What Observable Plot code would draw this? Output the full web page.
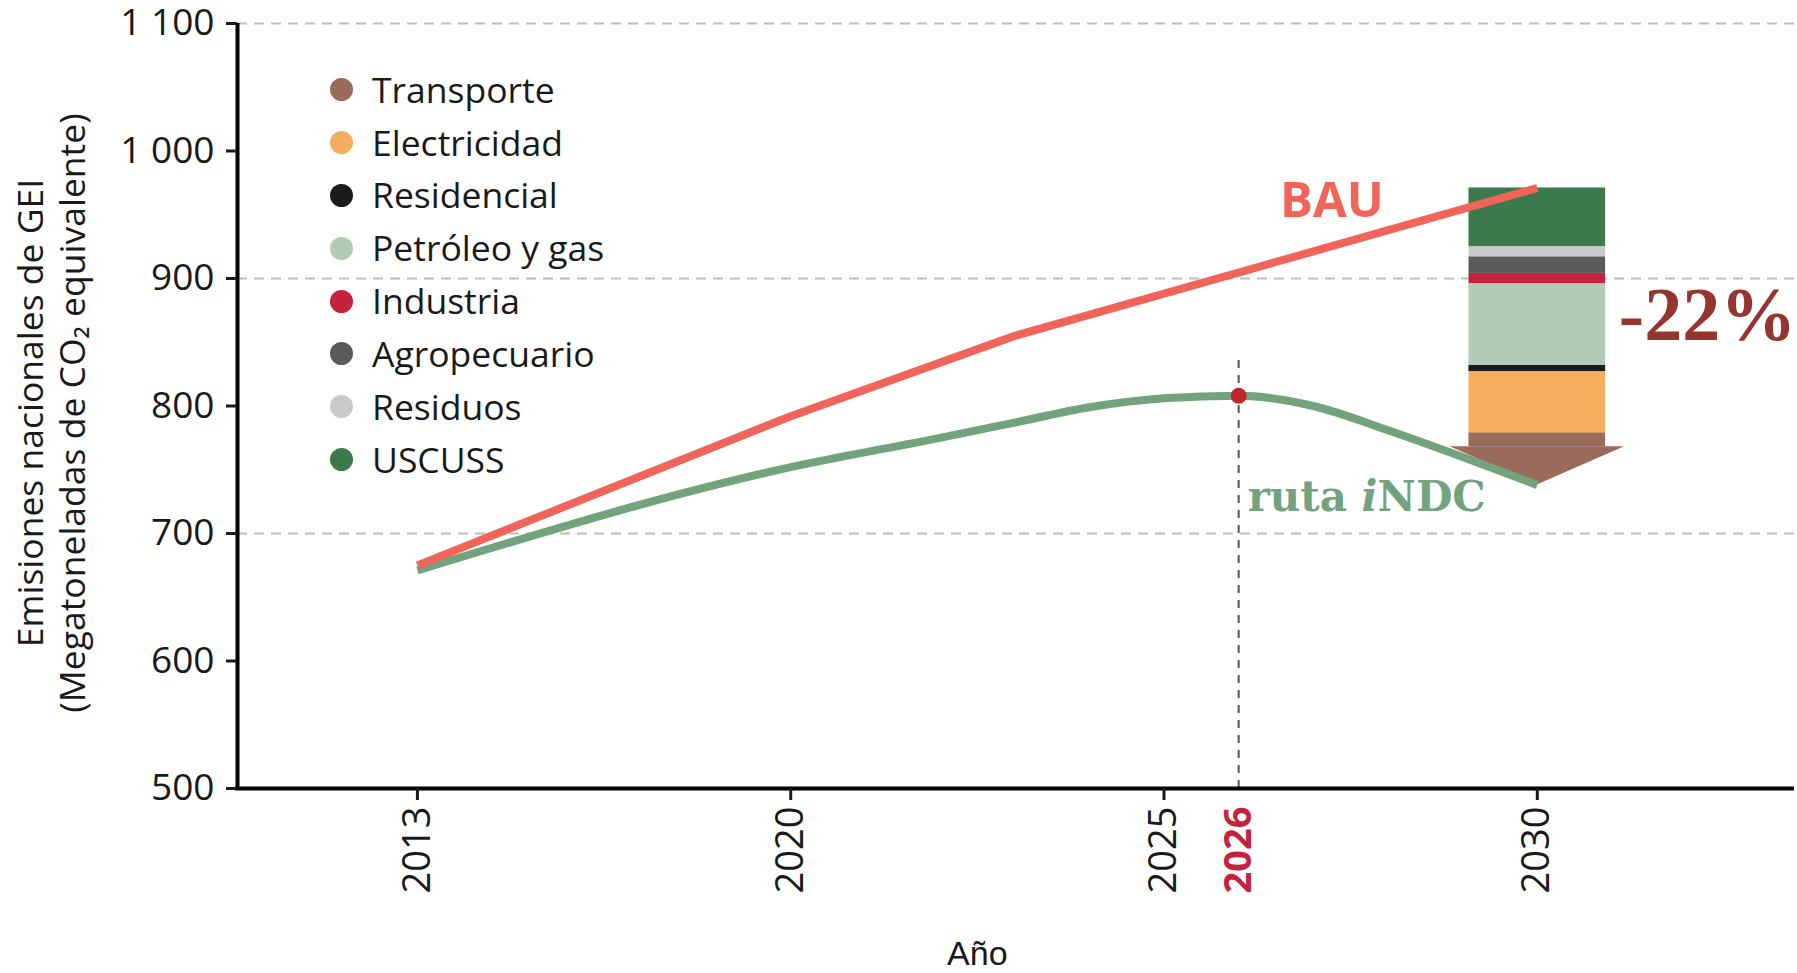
<!DOCTYPE html>
<html><head><meta charset="utf-8">
<script src="https://cdn.jsdelivr.net/npm/d3@7"></script>
<script src="https://cdn.jsdelivr.net/npm/@observablehq/plot@0.6"></script>
<style>
html,body{margin:0;padding:0;background:#fff;}
#chart{position:relative;width:1797px;height:973px;overflow:hidden;background:#fff;}
#legend{position:absolute;left:330px;top:63px;font-family:"Open Sans",sans-serif;font-size:35.5px;color:#1a1a1a;}
.item{display:flex;align-items:center;height:52.9px;line-height:1;}
.sw{width:23px;height:23px;border-radius:50%;margin-right:19px;flex:none;}
</style></head><body>
<div id="chart"><div id="legend"></div></div>
<script>
// ---- data ----
const bauYears = [2013, 2020, 2023, 2030];
const bauValues = [675, 792, 855, 971];
const ndcYears = [2013, 2020, 2022, 2023, 2024, 2025, 2026, 2027, 2028, 2029, 2030];
const ndcValues = [671, 752, 775, 787, 799, 806, 808, 800, 781, 760, 738];
const sectors = ["Transporte", "Electricidad", "Residencial", "Petróleo y gas", "Industria", "Agropecuario", "Residuos", "USCUSS"];
const sectorColors = ["#9a6b5b", "#f5ae5d", "#1b1b1b", "#b2cbb5", "#c4223f", "#5b5b5b", "#cacaca", "#3b7a4a"];
const reductions2030 = [41, 48, 5, 64, 8, 13, 8, 46]; // bottom to top
const yTicks = [500, 600, 700, 800, 900, 1000, 1100];
const gridValues = [700, 900, 1100];
const xTickYears = [2013, 2020, 2025, 2030];
const peakYear = 2026, peakValue = 808;
const yLabel = "Emisiones nacionales de GEI\n(Megatoneladas de CO\u2082 equivalente)";
const xLabel = "Año";
const reductionLabel = "-22%";

// ---- layout ----
const W = 1797, H = 973;
const pos = d3.scaleLinear().domain([2013, 2020, 2030]).range([0, 1, 3]); // broken year axis
const xDomain = [pos(2013) - 0.482, pos(2030) + 0.689];
const halfBar = 0.183, halfArrow = 0.234, arrowDepth = 30;
const barYear = 2030;

const bau = bauYears.map((year, i) => ({year, value: bauValues[i]}));
const ndc = ndcYears.map((year, i) => ({year, value: ndcValues[i]}));
const top2030 = bauValues[bauValues.length - 1];
const bottom = top2030 - d3.sum(reductions2030);
let acc = bottom;
const stack = sectors.map((sector, i) => {
  const y1 = acc; acc += reductions2030[i];
  return {sector, color: sectorColors[i], y1: i === 0 ? y1 + arrowDepth : y1, y2: acc};
});
const xc = pos(barYear);
const arrow = [
  {x: xc - halfArrow, y1: bottom + arrowDepth, y2: bottom + arrowDepth},
  {x: xc, y1: bottom, y2: bottom + arrowDepth},
  {x: xc + halfArrow, y1: bottom + arrowDepth, y2: bottom + arrowDepth}
];
const xLabelMap = new Map(xTickYears.map(y => [pos(y), String(y)]));

const plot = Plot.plot({
  width: W, height: H,
  marginLeft: 237, marginRight: 3, marginTop: 23, marginBottom: 185,
  style: {fontFamily: "'Open Sans', sans-serif", color: "#1a1a1a", background: "#fff", overflow: "visible"},
  x: {type: "linear", domain: xDomain, axis: null},
  y: {domain: [500, 1100], axis: null},
  color: {type: "identity"},
  marks: [
    Plot.ruleY(gridValues, {stroke: "#bdbdbd", strokeWidth: 2, strokeDasharray: "10,7"}),
    Plot.ruleX([pos(peakYear)], {y1: 500, y2: 850, stroke: "#555", strokeWidth: 2, strokeDasharray: "8,7", insetBottom: -18}),
    Plot.rect(stack, {x1: () => xc - halfBar, x2: () => xc + halfBar, y1: "y1", y2: "y2", fill: "color"}),
    Plot.areaY(arrow, {x: "x", y1: "y1", y2: "y2", fill: sectorColors[0], curve: "linear"}),
    Plot.line(ndc, {x: d => pos(d.year), y: "value", stroke: "#72a37d", strokeWidth: 8, curve: "monotone-x", strokeLinecap: "butt"}),
    Plot.line(bau, {x: d => pos(d.year), y: "value", stroke: "#f06459", strokeWidth: 8, strokeLinecap: "butt", strokeLinejoin: "round"}),
    Plot.dot([{year: peakYear, value: peakValue}], {x: d => pos(d.year), y: "value", r: 8, fill: "#c0272d"}),
    Plot.ruleX([xDomain[0]], {y1: 500, y2: 1100, stroke: "#000", strokeWidth: 4}),
    Plot.ruleY([500], {stroke: "#000", strokeWidth: 4, insetLeft: -2}),
    Plot.axisY({ticks: yTicks, tickSize: 11, tickPadding: 12, strokeWidth: 3, fontSize: 37, label: null,
      tickFormat: d => d3.format(",")(d).replace(/,/g, " ")}),
    Plot.axisX({ticks: xTickYears.map(pos), tickFormat: u => xLabelMap.get(u), tickRotate: -90, tickSize: 12, tickPadding: 6, strokeWidth: 3, fontSize: 38, label: null}),
    Plot.axisX({ticks: [pos(peakYear)], tickFormat: () => String(peakYear), tickRotate: -90, tickSize: 0, tickPadding: 18, fontSize: 38, fontWeight: "bold", color: "#c4223f", label: null}),
    Plot.text([yLabel], {frameAnchor: "left", rotate: -90, dx: -187, dy: 7, fontSize: 35.5, lineHeight: 1.18, textAnchor: "middle", lineAnchor: "middle", fill: "#1a1a1a"}),
    Plot.text([xLabel], {x: () => pos(2022.5), frameAnchor: "bottom", dy: 176, lineAnchor: "bottom", fontFamily: "'Liberation Sans', sans-serif", fontSize: 34, fill: "#1a1a1a"}),
    Plot.text(["BAU"], {x: () => pos(2027.25), y: () => 948, lineAnchor: "bottom", textAnchor: "middle", fontSize: 49, fontWeight: "bold", fill: "#f06459"}),
    Plot.text([reductionLabel], {x: () => pos(2032.28), y: () => 851.6, lineAnchor: "bottom", textAnchor: "middle", fontFamily: "'Liberation Serif', serif", fontSize: 76, fontWeight: "bold", fill: "#963530"}),
    Plot.text(["ruta iNDC"], {x: () => pos(peakYear), y: () => 718, dx: 9, lineAnchor: "bottom", textAnchor: "start", fontFamily: "'DejaVu Serif', serif", fontSize: 42, fontWeight: "bold", fill: "#72a37d"})
  ]
});

// italic "i" in "ruta iNDC"
d3.select(plot).selectAll("text").filter(function() { return this.textContent === "ruta iNDC"; }).each(function() {
  const t = d3.select(this);
  t.text(null).style("white-space", "pre");
  t.append("tspan").text("ruta ");
  t.append("tspan").attr("font-style", "italic").text("i");
  t.append("tspan").text("NDC");
});

const chart = document.getElementById("chart");
chart.insertBefore(plot, chart.firstChild);
const legend = document.getElementById("legend");
sectors.forEach((s, i) => {
  const item = document.createElement("div"); item.className = "item";
  const sw = document.createElement("span"); sw.className = "sw"; sw.style.background = sectorColors[i];
  const tx = document.createElement("span"); tx.textContent = s;
  item.appendChild(sw); item.appendChild(tx); legend.appendChild(item);
});
</script>
</body></html>
